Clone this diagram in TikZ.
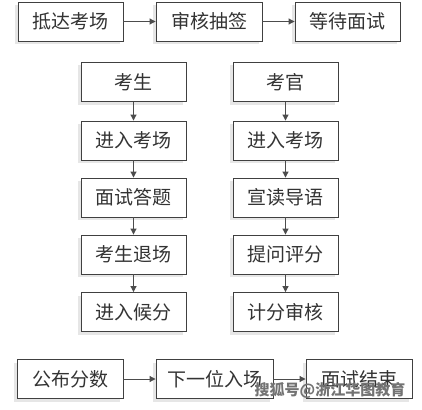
\documentclass[tikz,border=0pt]{standalone}
\usepackage{fontspec}
\setmainfont{Noto Sans CJK SC}
\usetikzlibrary{arrows.meta,shadows}
\begin{document}
\begin{tikzpicture}[x=1pt,y=-1pt,
  box/.style={draw=black!75,line width=0.9pt,fill=white,minimum height=39pt,inner sep=0pt,
    font=\fontsize{19}{19}\selectfont,text=black!80,
    drop shadow={shadow xshift=-3pt,shadow yshift=-3pt,fill=black!12,opacity=0.8}},
  conn/.style={draw=black!70,line width=1pt,-{Triangle[length=6pt,width=6pt]}}]
\useasboundingbox (0,0) rectangle (422,409);
\fill[white] (0,0) rectangle (422,409);
% top row
\node[box,minimum width=105pt] (a1) at (70.5,21.5) {抵达考场};
\node[box,minimum width=106pt] (a2) at (209,21.5) {审核抽签};
\node[box,minimum width=105pt] (a3) at (347.5,21.5) {等待面试};
\draw[conn] (a1) -- (a2);
\draw[conn] (a2) -- (a3);
% left column
\node[box,minimum width=105pt] (l0) at (133.5,82) {考生};
\node[box,minimum width=105pt] (l1) at (133.5,140.5) {进入考场};
\node[box,minimum width=105pt] (l2) at (133.5,197.5) {面试答题};
\node[box,minimum width=105pt] (l3) at (133.5,254.5) {考生退场};
\node[box,minimum width=105pt] (l4) at (133.5,312) {进入候分};
\draw[conn] (l0) -- (l1);
\draw[conn] (l1) -- (l2);
\draw[conn] (l2) -- (l3);
\draw[conn] (l3) -- (l4);
% right column
\node[box,minimum width=105pt] (r0) at (285.5,82) {考官};
\node[box,minimum width=105pt] (r1) at (285.5,140.5) {进入考场};
\node[box,minimum width=105pt] (r2) at (285.5,197.5) {宣读导语};
\node[box,minimum width=105pt] (r3) at (285.5,254.5) {提问评分};
\node[box,minimum width=105pt] (r4) at (285.5,312) {计分审核};
\draw[conn] (r0) -- (r1);
\draw[conn] (r1) -- (r2);
\draw[conn] (r2) -- (r3);
\draw[conn] (r3) -- (r4);
% bottom row
\node[box,minimum width=106pt] (b1) at (70,379) {公布分数};
\node[box,minimum width=117pt] (b2) at (214.5,379) {下一位入场};
\node[box,minimum width=106pt] (b3) at (359,379) {面试结束};
\draw[conn] (b1) -- (b2);
\draw[conn] (b2) -- (b3);
% watermark
\node[font=\bfseries\fontsize{15}{15}\selectfont,text=black!55,inner sep=0pt] (wm) at (330,390) {搜狐号@浙江华图教育};
\end{tikzpicture}
\end{document}
